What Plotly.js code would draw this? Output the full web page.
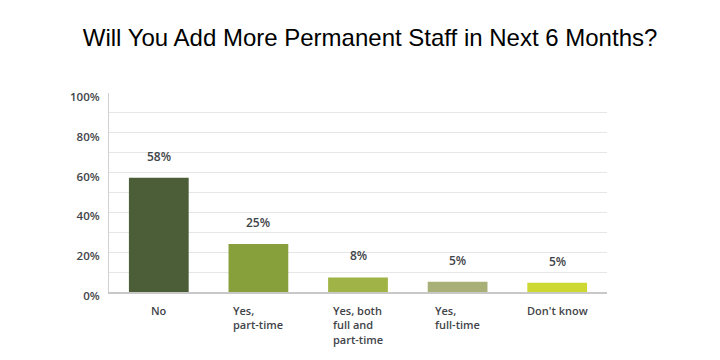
<!DOCTYPE html>
<html>
<head>
<meta charset="utf-8">
<script src="https://cdn.plot.ly/plotly-3.0.1.min.js"></script>
<style>html,body{margin:0;padding:0;background:#fff;}#chart{width:720px;height:360px;}</style>
</head>
<body>
<div id="chart"></div>
<script>
const categories = ['No', 'Yes, part-time', 'Yes, both full and part-time', 'Yes, full-time', "Don't know"];
const categoryLabels = ['No', 'Yes,<br>part-time', 'Yes, both<br>full and<br>part-time', 'Yes,<br>full-time', "Don't know"];
const values = [57.4, 24.1, 7.3, 5.2, 4.7];
const valueLabels = ['58%', '25%', '8%', '5%', '5%'];
const barColors = ['#4b5e38', '#88a03c', '#a0b346', '#a8b077', '#cdd832'];
const yTickVals = [0, 20, 40, 60, 80, 100];
const yTickText = ['0%', '20%', '40%', '60%', '80%', '100%'];

const labelFont = {family: 'Open Sans, sans-serif', size: 11, color: '#3f4448', weight: 600};

const annotations = [];
categories.forEach((c, i) => {
  annotations.push({
    x: c, y: values[i], xref: 'x', yref: 'y', text: valueLabels[i],
    showarrow: false, xanchor: 'center', yanchor: 'bottom', yshift: 11,
    font: {family: 'Open Sans, sans-serif', size: 12, color: '#3f4448', weight: 600}
  });
  annotations.push({
    x: c, y: 0, xref: 'x', yref: 'paper', text: categoryLabels[i],
    showarrow: false, xanchor: 'center', yanchor: 'top', yshift: -9, align: 'left',
    font: labelFont
  });
});

const data = [{
  type: 'bar', x: categories, y: values,
  marker: {color: barColors}, width: 0.6, hoverinfo: 'none'
}];

const layout = {
  width: 720, height: 360,
  margin: {l: 109, r: 113, t: 92.5, b: 67.5},
  paper_bgcolor: '#fff', plot_bgcolor: '#fff',
  showlegend: false,
  title: {text: 'Will You Add More Permanent Staff in Next 6 Months?', x: 0.514, xanchor: 'center', y: 0.895, yanchor: 'middle',
    font: {family: 'Liberation Sans, Arial, sans-serif', size: 24, color: '#000'}},
  xaxis: {type: 'category', showticklabels: false, showgrid: false, showline: true, linecolor: '#c8c8c8', linewidth: 1.5, ticks: '', zeroline: false},
  yaxis: {range: [0, 100], tickvals: yTickVals, ticktext: yTickText, showgrid: true, gridcolor: '#e6e6e6', gridwidth: 1,
    minor: {dtick: 10, tick0: 0, showgrid: true, gridcolor: '#e6e6e6', gridwidth: 1, ticks: ''},
    showline: true, linecolor: '#d0d0d0', linewidth: 1, zeroline: false, ticks: '',
    ticklabelstandoff: 6, ticklabelshift: 4, tickfont: {family: 'Open Sans, sans-serif', size: 11.5, color: '#3f4448', weight: 600}},
  annotations: annotations
};

Plotly.newPlot('chart', data, layout, {staticPlot: true, displayModeBar: false});
</script>
</body>
</html>
